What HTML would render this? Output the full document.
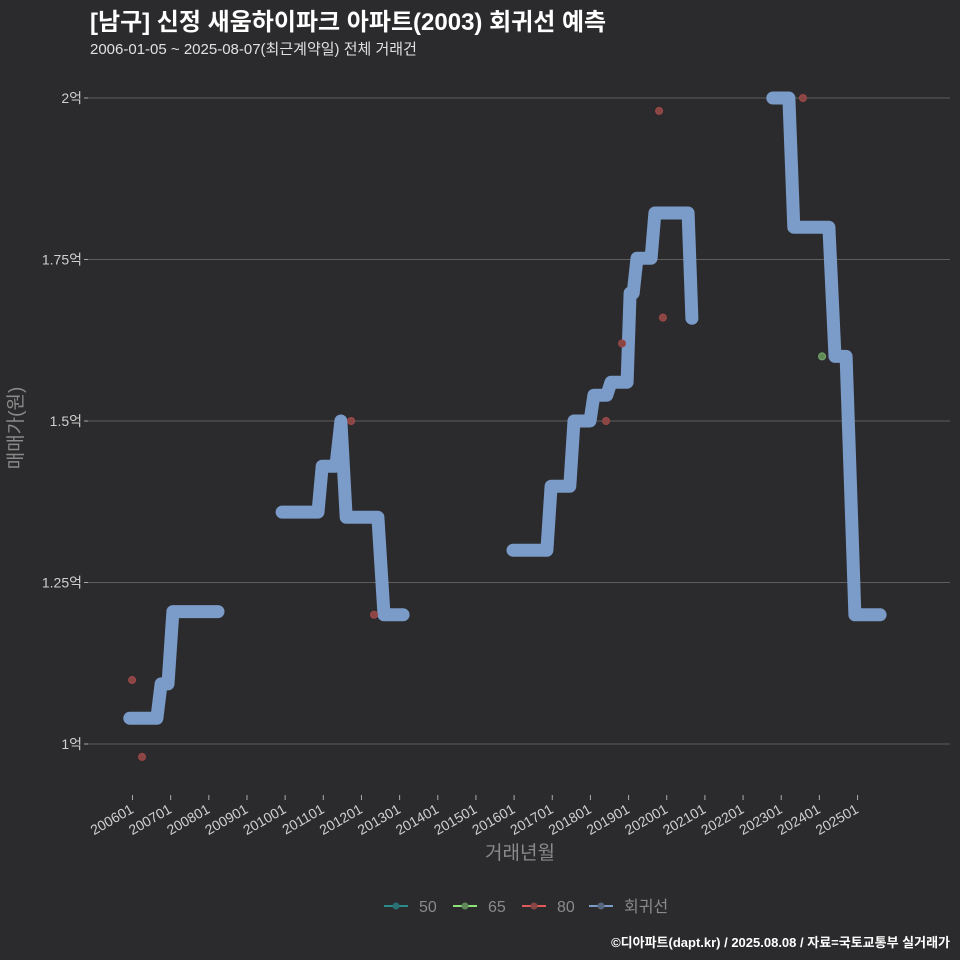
<!DOCTYPE html>
<html><head><meta charset="utf-8"><style>
body{margin:0;background:#2b2b2d;}
svg{display:block;font-family:"Liberation Sans","Noto Sans CJK KR",sans-serif;}
</style></head><body>
<svg id="chart" width="960" height="960" viewBox="0 0 960 960">
<rect x="0" y="0" width="960" height="960" fill="#2b2b2d"/>
<text x="90" y="30" fill="#ffffff" font-size="24" font-weight="bold">[남구] 신정 새움하이파크 아파트(2003) 회귀선 예측</text>
<text x="90" y="54" fill="#e0e0e0" font-size="15">2006-01-05 ~ 2025-08-07(최근계약일) 전체 거래건</text>
<g id="grid"></g>
<g id="yaxis"></g>
<g id="xaxis"></g>
<g id="series"></g>
<text x="22" y="428" fill="#8a8a8a" font-size="19" text-anchor="middle" transform="rotate(-90 22 428)">매매가(원)</text>
<text x="520" y="859" fill="#8a8a8a" font-size="19" text-anchor="middle">거래년월</text>
<g>
<g><line x1="384" y1="906" x2="408" y2="906" stroke="#2a8b8b" stroke-width="2"/><circle cx="396" cy="906" r="3.5" fill="#2a6f73"/><text x="419" y="912" fill="#8a8a8a" font-size="16">50</text></g>
<g><line x1="453" y1="906" x2="477" y2="906" stroke="#8de07a" stroke-width="2"/><circle cx="465" cy="906" r="3.5" fill="#5f8a58"/><text x="488" y="912" fill="#8a8a8a" font-size="16">65</text></g>
<g><line x1="522" y1="906" x2="546" y2="906" stroke="#e05a5a" stroke-width="2"/><circle cx="534" cy="906" r="3.5" fill="#8a4545"/><text x="557" y="912" fill="#8a8a8a" font-size="16">80</text></g>
<g><line x1="589" y1="906" x2="613" y2="906" stroke="#7b9bc8" stroke-width="2"/><circle cx="601" cy="906" r="3.5" fill="#56677f"/><text x="624" y="912" fill="#8a8a8a" font-size="16">회귀선</text></g>
</g>
<text x="950" y="947" fill="#ffffff" font-size="13" font-weight="bold" text-anchor="end">©디아파트(dapt.kr) / 2025.08.08 / 자료=국토교통부 실거래가</text>
</svg>
<script>
const yTicks = [1, 1.25, 1.5, 1.75, 2];
const yTickLabels = ["1억", "1.25억", "1.5억", "1.75억", "2억"];
const xTickYears = [2006,2007,2008,2009,2010,2011,2012,2013,2014,2015,2016,2017,2018,2019,2020,2021,2022,2023,2024,2025];
const xTickLabels = ["200601","200701","200801","200901","201001","201101","201201","201301","201401","201501","201601","201701","201801","201901","202001","202101","202201","202301","202401","202501"];
const regSeg1 = [[2005.93,1.04],[2006.64,1.04],[2006.75,1.093],[2006.93,1.093],[2007.06,1.205],[2008.24,1.205]];
const regSeg2 = [[2009.92,1.359],[2010.86,1.359],[2010.97,1.43],[2011.33,1.43],[2011.46,1.5],[2011.6,1.351],[2012.43,1.351],[2012.59,1.2],[2013.09,1.2]];
const regSeg3 = [[2015.97,1.30],[2016.86,1.30],[2016.97,1.399],[2017.46,1.399],[2017.57,1.5],[2017.99,1.5],[2018.09,1.54],[2018.43,1.54],[2018.54,1.56],[2018.96,1.56],[2019.04,1.698],[2019.12,1.698],[2019.22,1.752],[2019.59,1.752],[2019.69,1.822],[2020.56,1.822],[2020.66,1.659]];
const regSeg4 = [[2022.78,2.0],[2023.2,2.0],[2023.33,1.80],[2024.25,1.80],[2024.41,1.60],[2024.7,1.60],[2024.93,1.20],[2025.59,1.20]];
const pts80 = [[2005.99,1.099],[2006.25,0.98],[2011.73,1.5],[2012.33,1.2],[2018.41,1.5],[2018.83,1.62],[2019.8,1.98],[2019.9,1.66],[2023.57,2.0]];
const pts65 = [[2024.07,1.6]];

const NS = "http://www.w3.org/2000/svg";
function xs(t){ return 132.5 + (t - 2006) * 38.16; }
function ys(v){ return 744 - (v - 1) * 646; }
function mk(tag, attrs, parent){ const e = document.createElementNS(NS, tag); for (const k in attrs) e.setAttribute(k, attrs[k]); parent.appendChild(e); return e; }

const grid = document.getElementById('grid');
const yaxis = document.getElementById('yaxis');
yTicks.forEach((v, i) => {
  const g = mk('line', {x1: 88, x2: 950, y1: ys(v), y2: ys(v), stroke: '#5e5e5e', 'stroke-width': 1}, grid);
  
  
  const tk = mk('line', {x1: 84, x2: 88, y1: ys(v), y2: ys(v), stroke: '#aaaaaa', 'stroke-width': 1}, yaxis);
  
  
  const t = mk('text', {x: 82, y: ys(v) + 5, fill: '#cfcfcf', 'font-size': 14, 'text-anchor': 'end'}, yaxis);
  t.textContent = yTickLabels[i];
  
  
});
const xaxis = document.getElementById('xaxis');
xTickYears.forEach((yr, i) => {
  const x = xs(yr);
  const tk = mk('line', {x1: x, x2: x, y1: 795, y2: 800, stroke: '#aaaaaa', 'stroke-width': 1}, xaxis);
  
  
  const t = mk('text', {x: x + 2, y: 812, fill: '#cfcfcf', 'font-size': 14, 'text-anchor': 'end', transform: `rotate(-30 ${x + 2} 812)`}, xaxis);
  t.textContent = xTickLabels[i];
  
  
});
const series = document.getElementById('series');
[regSeg1, regSeg2, regSeg3, regSeg4].forEach((seg) => {
  const d = seg.map((p, j) => (j ? 'L' : 'M') + xs(p[0]).toFixed(1) + ' ' + ys(p[1]).toFixed(1)).join(' ');
  const p = mk('path', {d: d, fill: 'none', stroke: '#7b9bc8', 'stroke-width': 13, 'stroke-linecap': 'round', 'stroke-linejoin': 'round'}, series);
  
  
});
pts80.forEach((p) => {
  const c = mk('circle', {cx: xs(p[0]), cy: ys(p[1]), r: 3.5, fill: '#8a4545', stroke: '#a04848', 'stroke-width': 1}, series);
  
  
});
pts65.forEach((p) => {
  const c = mk('circle', {cx: xs(p[0]), cy: ys(p[1]), r: 3.5, fill: '#5f8a58', stroke: '#76a86c', 'stroke-width': 1}, series);
  
  
});
</script>
</body></html>
